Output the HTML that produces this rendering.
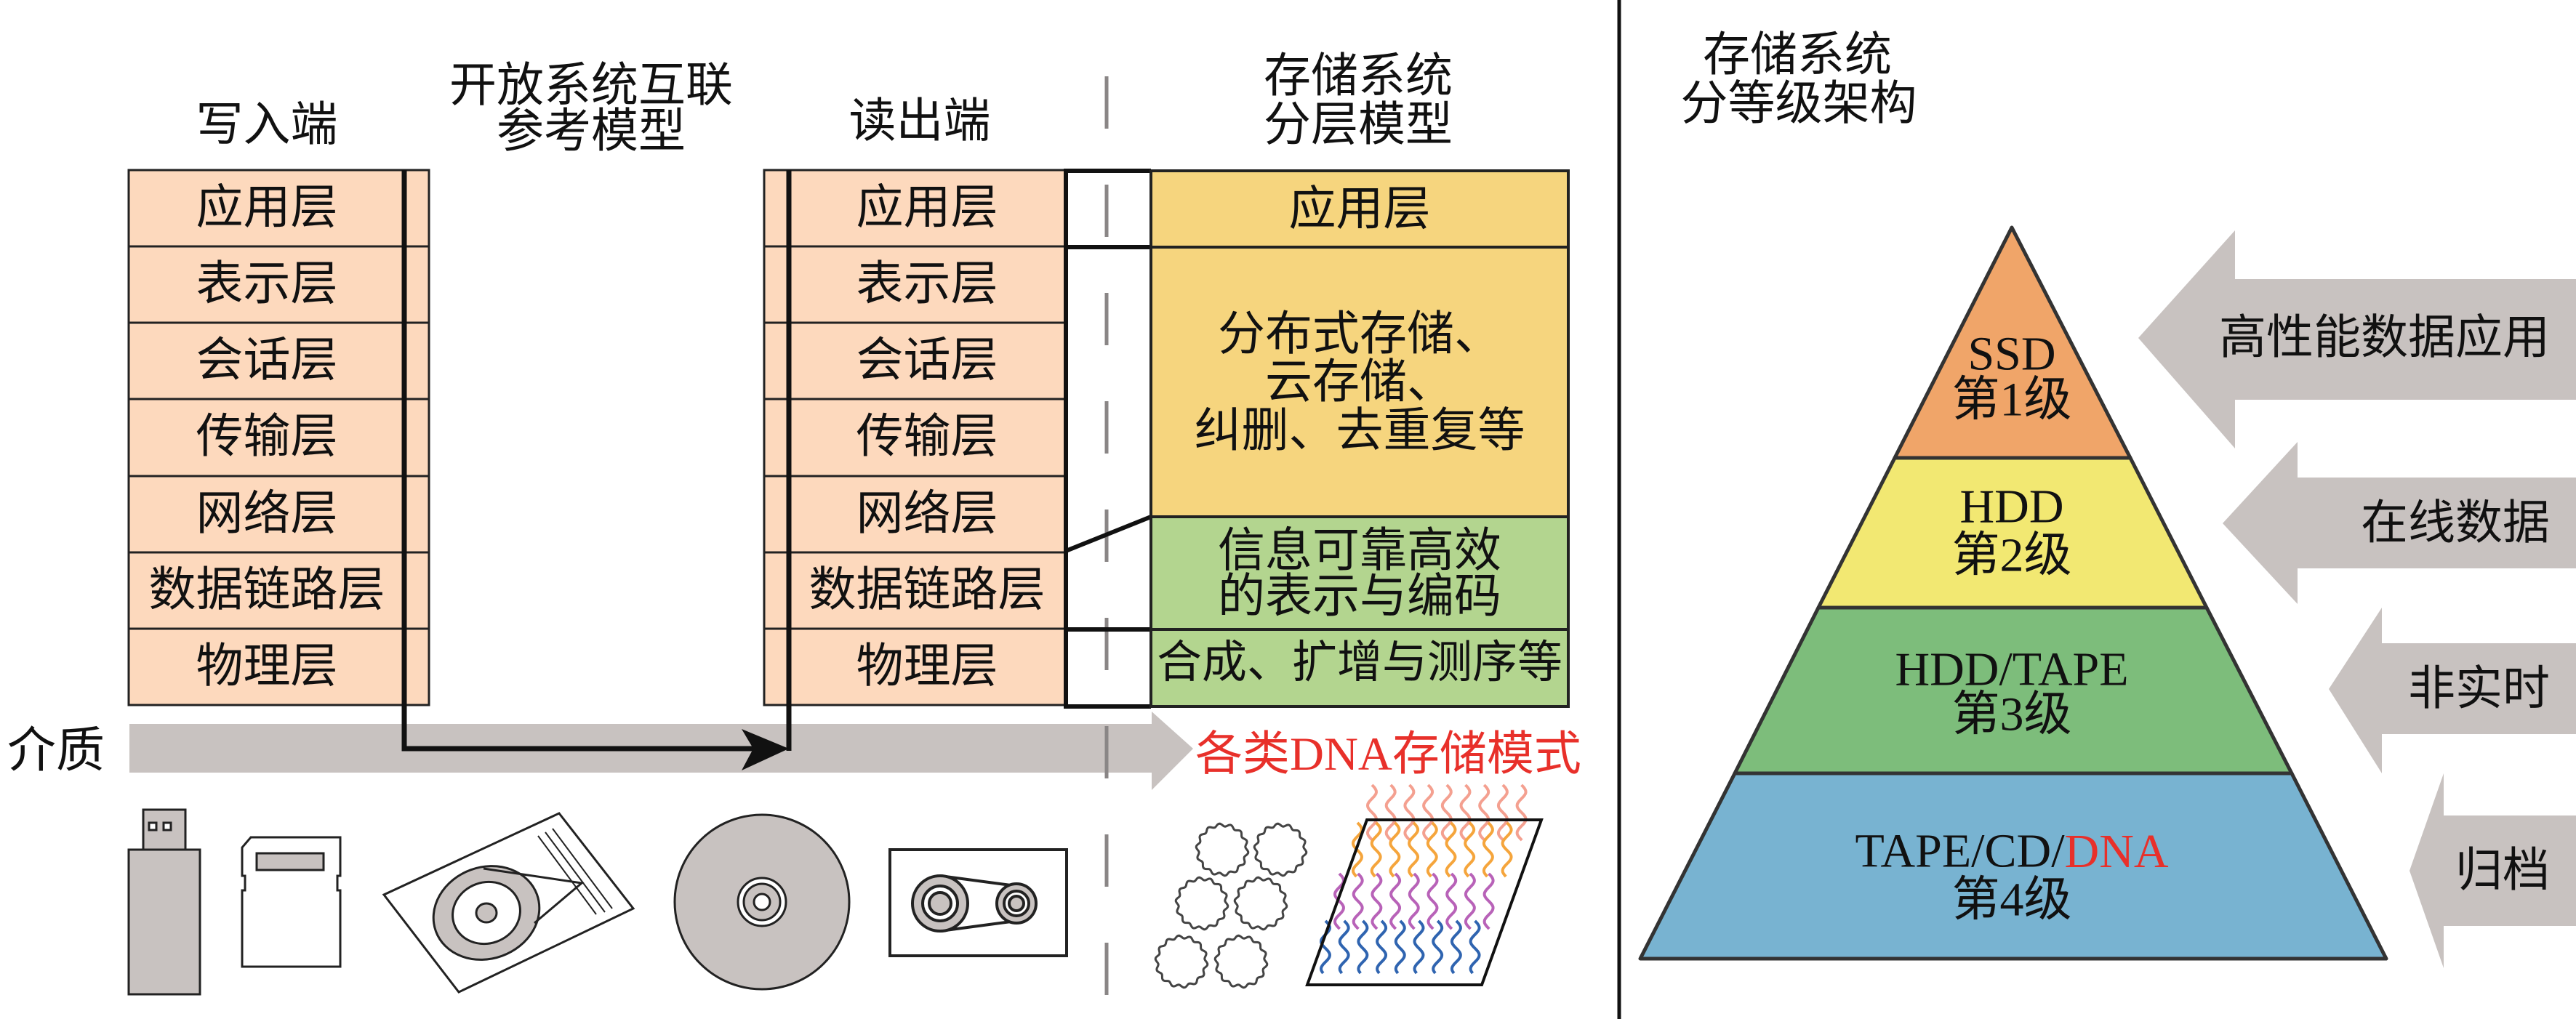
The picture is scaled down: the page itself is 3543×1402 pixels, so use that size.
<!DOCTYPE html>
<html><head><meta charset="utf-8">
<style>
html,body{margin:0;padding:0;background:#fff;}
svg{display:block;}
text{font-family:"Liberation Serif","Noto Sans CJK SC",serif;}
.c{font-size:65px;fill:#111;text-anchor:middle;dominant-baseline:central;}
</style></head><body>
<svg id="s" width="3543" height="1402" viewBox="0 0 3543 1402" xmlns="http://www.w3.org/2000/svg">
<text class="c" x="367" y="172">写入端</text>
<text class="c" x="813" y="118">开放系统互联</text>
<text class="c" x="813" y="181">参考模型</text>
<text class="c" x="1265" y="167">读出端</text>
<text class="c" x="1868" y="105">存储系统</text>
<text class="c" x="1868" y="172">分层模型</text>

<rect x="178" y="996" width="1406" height="67" fill="#c8c2c0"/>
<polygon points="1584,979 1641,1030 1584,1087" fill="#c8c2c0"/>
<text class="c" x="77" y="1033" style="font-size:67px">介质</text>
<text x="1644" y="1038" style="font-size:65px;fill:#e8302a;dominant-baseline:central">各类DNA存储模式</text>

<line x1="1522" y1="105" x2="1522" y2="1370" stroke="#8a8686" stroke-width="5" stroke-dasharray="72 77"/>

<g stroke="#222" stroke-width="3">
<rect x="177" y="234" width="413" height="736" fill="#fdd9bd"/>
<line x1="177" y1="339" x2="590" y2="339"/><line x1="177" y1="444" x2="590" y2="444"/>
<line x1="177" y1="549" x2="590" y2="549"/><line x1="177" y1="655" x2="590" y2="655"/>
<line x1="177" y1="760" x2="590" y2="760"/><line x1="177" y1="865" x2="590" y2="865"/>
</g>
<g stroke="#222" stroke-width="3">
<rect x="1051" y="234" width="415" height="736" fill="#fdd9bd"/>
<line x1="1051" y1="339" x2="1466" y2="339"/><line x1="1051" y1="444" x2="1466" y2="444"/>
<line x1="1051" y1="549" x2="1466" y2="549"/><line x1="1051" y1="655" x2="1466" y2="655"/>
<line x1="1051" y1="760" x2="1466" y2="760"/><line x1="1051" y1="865" x2="1466" y2="865"/>
</g>
<text class="c" x="367" y="286">应用层</text><text class="c" x="367" y="391">表示层</text>
<text class="c" x="367" y="496">会话层</text><text class="c" x="367" y="601">传输层</text>
<text class="c" x="367" y="707">网络层</text><text class="c" x="367" y="812">数据链路层</text>
<text class="c" x="367" y="917">物理层</text>
<text class="c" x="1275" y="286">应用层</text><text class="c" x="1275" y="391">表示层</text>
<text class="c" x="1275" y="496">会话层</text><text class="c" x="1275" y="601">传输层</text>
<text class="c" x="1275" y="707">网络层</text><text class="c" x="1275" y="812">数据链路层</text>
<text class="c" x="1275" y="917">物理层</text>

<polyline points="556,234 556,1030 1040,1030" fill="none" stroke="#111" stroke-width="7"/>
<polyline points="1085,234 1085,1033" fill="none" stroke="#111" stroke-width="7"/>
<polygon points="1020,1003 1085,1030 1020,1060 1036,1030" fill="#111"/>

<g stroke="#111" stroke-width="6" fill="none">
<line x1="1466" y1="235" x2="1583" y2="235"/>
<line x1="1466" y1="340" x2="1583" y2="340"/>
<line x1="1466" y1="758" x2="1583" y2="711"/>
<line x1="1466" y1="866" x2="1583" y2="866"/>
<line x1="1466" y1="972" x2="1583" y2="972"/>
<line x1="1466" y1="232" x2="1466" y2="975"/>
</g>
<g stroke="#222" stroke-width="4">
<rect x="1583" y="235" width="574" height="105" fill="#f6d57e"/>
<rect x="1583" y="340" width="574" height="371" fill="#f6d57e"/>
<rect x="1583" y="711" width="574" height="155" fill="#b3d58f"/>
<rect x="1583" y="866" width="574" height="106" fill="#b3d58f"/>
</g>
<text class="c" x="1870" y="288">应用层</text>
<text class="c" x="1870" y="460">分布式存储、</text>
<text class="c" x="1870" y="526">云存储、</text>
<text class="c" x="1870" y="593">纠删、去重复等</text>
<text class="c" x="1870" y="758">信息可靠高效</text>
<text class="c" x="1870" y="821">的表示与编码</text>
<text class="c" x="1870" y="912" style="font-size:62px">合成、扩增与测序等</text>

<line x1="2227" y1="0" x2="2227" y2="1402" stroke="#111" stroke-width="5"/>

<text class="c" x="2472" y="76">存储系统</text>
<text class="c" x="2474" y="143">分等级架构</text>

<g stroke="#333" stroke-width="5" stroke-linejoin="round">
<polygon points="2767,313 2930,630 2606,630" fill="#f0a569"/>
<polygon points="2606,630 2930,630 3035,836 2501,836" fill="#f2e872"/>
<polygon points="2501,836 3035,836 3152,1064 2386,1064" fill="#7dbd7b"/>
<polygon points="2386,1064 3152,1064 3282,1319 2256,1319" fill="#78b3d1"/>
</g>
<g style="font-size:66px;fill:#111;text-anchor:middle;dominant-baseline:central">
<text x="2767" y="487">SSD</text><text x="2767" y="550">第1级</text>
<text x="2767" y="697">HDD</text><text x="2767" y="764">第2级</text>
<text x="2767" y="921">HDD/TAPE</text><text x="2767" y="983">第3级</text>
<text x="2767" y="1171">TAPE/CD/<tspan fill="#e8302a">DNA</tspan></text><text x="2767" y="1238">第4级</text>
</g>
<g fill="#c8c2c0">
<polygon points="3074,317 3074,384 3543,384 3543,550 3074,550 3074,617 2941,465"/>
<polygon points="3160,608 3160,657 3543,657 3543,782 3160,782 3160,831 3057,720"/>
<polygon points="3276,836 3276,885 3543,885 3543,1010 3276,1010 3276,1064 3203,948"/>
<polygon points="3361,1064 3361,1122 3543,1122 3543,1274 3361,1274 3361,1332 3314,1198"/>
</g>
<g style="font-size:65px;fill:#111;text-anchor:end;dominant-baseline:central">
<text x="3507" y="465">高性能数据应用</text>
<text x="3507" y="720">在线数据</text>
<text x="3507" y="948">非实时</text>
<text x="3507" y="1198">归档</text>
</g>

<g stroke="#222" stroke-width="3">
<rect x="197" y="1114" width="58" height="55" fill="#c8c2c0"/>
<rect x="205" y="1132" width="10" height="10" fill="#fff"/>
<rect x="225" y="1132" width="10" height="10" fill="#fff"/>
<rect x="177" y="1169" width="98" height="199" fill="#c8c2c0"/>
</g>
<g stroke="#222" stroke-width="3">
<path d="M345,1152 L468,1152 L468,1205 L464,1205 L464,1225 L468,1225 L468,1330 L333,1330 L333,1225 L337,1225 L337,1205 L333,1205 L333,1166 Z" fill="#fff"/>
<rect x="353" y="1174" width="92" height="23" fill="#c8c2c0"/>
</g>
<g stroke="#222" stroke-width="3">
<polygon points="769,1119 871,1250 631,1365 528,1231" fill="#fff"/>
<ellipse cx="669" cy="1256" rx="74" ry="63" fill="#c8c2c0" transform="rotate(-20 669 1256)"/>
<ellipse cx="669" cy="1256" rx="47" ry="42" fill="#fff" transform="rotate(-20 669 1256)"/>
<ellipse cx="669" cy="1256" rx="14" ry="13" fill="#c8c2c0"/>
<line x1="740" y1="1150" x2="820" y2="1258" stroke-width="2"/>
<line x1="750" y1="1145" x2="832" y2="1255" stroke-width="2"/>
<line x1="760" y1="1140" x2="842" y2="1250" stroke-width="2"/>
<path d="M665,1195 L800,1215 L735,1270" fill="none" stroke-width="3"/>
</g>
<g stroke="#222" stroke-width="3">
<circle cx="1048" cy="1241" r="120" fill="#c8c2c0"/>
<circle cx="1048" cy="1241" r="33" fill="#fff"/>
<circle cx="1048" cy="1241" r="25" fill="#c8c2c0"/>
<circle cx="1048" cy="1241" r="11" fill="#fff"/>
</g>
<g stroke="#222" stroke-width="4">
<rect x="1224" y="1169" width="243" height="146" fill="#fff"/>
<line x1="1293" y1="1205" x2="1398" y2="1219"/>
<line x1="1293" y1="1281" x2="1398" y2="1267"/>
<circle cx="1293" cy="1243" r="38" fill="#c8c2c0"/>
<circle cx="1293" cy="1243" r="24" fill="#fff"/>
<circle cx="1293" cy="1243" r="15" fill="#c8c2c0"/>
<circle cx="1398" cy="1243" r="27" fill="#c8c2c0"/>
<circle cx="1398" cy="1243" r="17" fill="#fff"/>
<circle cx="1398" cy="1243" r="10" fill="#c8c2c0"/>
</g>
<g id="dyn"></g>
<polygon points="1880,1128 2120,1128 2038,1355 1798,1355" fill="none" stroke="#111" stroke-width="4"/>
</svg>
<script>
(function(){
var g=document.getElementById('dyn'),h='';
var cs=[[1681,1169],[1761,1169],[1653,1243],[1734,1243],[1625,1323],[1707,1323]];
cs.forEach(function(c){var d='';for(var i=0;i<=140;i++){var a=i/140*Math.PI*2,r=34+2*Math.sin(a*14);d+=(i?'L':'M')+(c[0]+r*Math.cos(a)).toFixed(1)+','+(c[1]+r*Math.sin(a)).toFixed(1);}h+='<path d="'+d+'" fill="none" stroke="#444" stroke-width="3"/>';});
var rows=[['#f4a090',1887,1080,1157],['#f5a53c',1867,1132,1207],['#b862b8',1842,1202,1278],['#2f64b0',1823,1267,1340]];
rows.forEach(function(r){for(var k=0;k<9;k++){var x0=r[1]+k*25.7,d='';for(var y=r[2];y<=r[3];y+=2){d+=(y==r[2]?'M':'L')+(x0+6*Math.sin((y-r[2])/6)).toFixed(1)+','+y;}h+='<path d="'+d+'" fill="none" stroke="'+r[0]+'" stroke-width="4"/>';}});
g.innerHTML=h;
})();
</script>
</body></html>
